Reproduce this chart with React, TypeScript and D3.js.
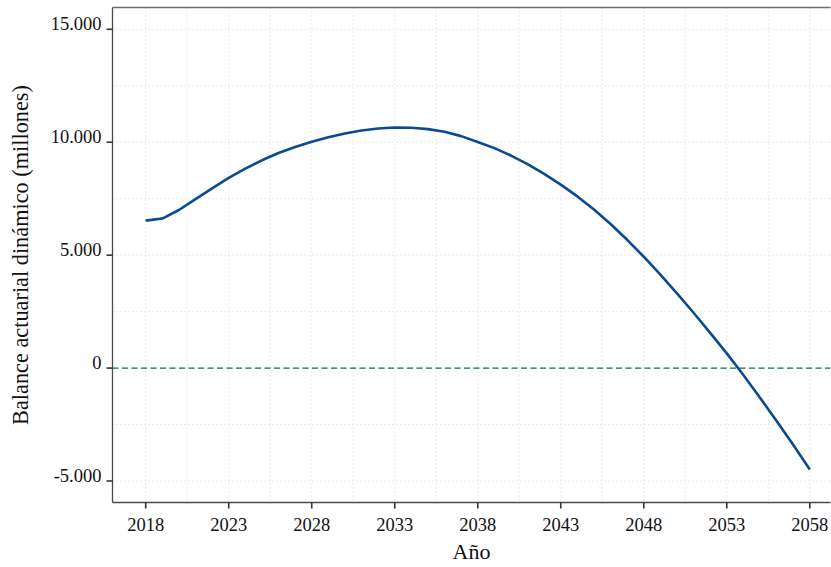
import React from "react";
import * as d3 from "d3";

const years: number[] = [
  2018, 2019, 2020, 2021, 2022, 2023, 2024, 2025, 2026, 2027, 2028, 2029, 2030,
  2031, 2032, 2033, 2034, 2035, 2036, 2037, 2038, 2039, 2040, 2041, 2042, 2043,
  2044, 2045, 2046, 2047, 2048, 2049, 2050, 2051, 2052, 2053, 2054, 2055, 2056,
  2057, 2058,
];
const balance: number[] = [
  6530, 6620, 7000, 7480, 7960, 8420, 8830, 9200, 9520, 9790, 10020, 10220, 10390,
  10520, 10610, 10650, 10640, 10580, 10460, 10270, 10010, 9740, 9410, 9030, 8600, 8120,
  7600, 7020, 6380, 5680, 4930, 4140, 3310, 2450, 1560, 650, -310, -1310, -2340,
  -3400, -4490,
];
const xTicks: number[] = [2018, 2023, 2028, 2033, 2038, 2043, 2048, 2053, 2058];
const xMinor: number[] = [2020.5, 2025.5, 2030.5, 2035.5, 2040.5, 2045.5, 2050.5, 2055.5];
const yTicks: number[] = [-5000, 0, 5000, 10000, 15000];
const yMinor: number[] = [-2500, 2500, 7500, 12500];
const yTickLabels: string[] = ["-5.000", "0", "5.000", "10.000", "15.000"];

const W = 831;
const H = 567;
const left = 112.5;
const top = 7.5;
const bottom = 502.5;
const right = 830.5;

export default function App() {
  const x = d3.scaleLinear().domain([2016, 2060]).range([left, 843]);
  const y = d3.scaleLinear().domain([-5000, 15000]).range([481, 29.3]);
  const pts = years.map((yr, i) => [yr, balance[i]] as [number, number]);
  const line = d3
    .line<[number, number]>()
    .x((d) => x(d[0]))
    .y((d) => y(d[1]))
    .curve(d3.curveLinear);
  const font = "'Liberation Serif', 'Times New Roman', serif";
  const gridColor = "#d4d4d4";
  return (
    <svg
      width={W}
      height={H}
      style={{ position: "absolute", left: 0, top: 0, background: "#fff" }}
      fontFamily={font}
    >
      <defs>
        <clipPath id="panel">
          <rect x={left} y={top} width={right - left} height={bottom - top} />
        </clipPath>
      </defs>
      <g clipPath="url(#panel)">
        {[...xTicks, ...xMinor].map((t) => (
          <line
            key={"vx" + t}
            x1={x(t)}
            x2={x(t)}
            y1={top}
            y2={bottom}
            stroke={gridColor}
            strokeWidth={1}
            strokeDasharray="1,3"
          />
        ))}
        {[...yTicks, ...yMinor].map((t) => (
          <line
            key={"hy" + t}
            x1={left}
            x2={right}
            y1={y(t)}
            y2={y(t)}
            stroke={gridColor}
            strokeWidth={1}
            strokeDasharray="1,3"
          />
        ))}
        <line
          x1={left}
          x2={right}
          y1={y(0)}
          y2={y(0)}
          stroke="#0a7a32"
          strokeWidth={1.2}
          strokeDasharray="6,3.5"
        />
        <path
          d={line(pts) || ""}
          fill="none"
          stroke="#0a4a92"
          strokeWidth={2.6}
          strokeLinejoin="round"
          strokeLinecap="butt"
        />
      </g>
      {/* panel border */}
      <line x1={left} x2={right} y1={top} y2={top} stroke="#6e6e6e" strokeWidth={1.3} />
      <line x1={left} x2={left} y1={top} y2={bottom} stroke="#4a4a4a" strokeWidth={1.3} />
      <line x1={left} x2={right} y1={bottom} y2={bottom} stroke="#4a4a4a" strokeWidth={1.3} />
      {/* y ticks */}
      {yTicks.map((t, i) => (
        <g key={"yt" + t}>
          <line x1={left - 6} x2={left} y1={y(t)} y2={y(t)} stroke="#333" strokeWidth={1.6} />
          <text
            x={left - 11}
            y={y(t) + 1}
            textAnchor="end"
            fontSize={18.5}
            fill="#111"
          >
            {yTickLabels[i]}
          </text>
        </g>
      ))}
      {/* x ticks */}
      {xTicks.map((t) => (
        <g key={"xt" + t}>
          <line x1={x(t)} x2={x(t)} y1={bottom} y2={bottom + 6} stroke="#333" strokeWidth={1.6} />
          <text x={x(t)} y={531} textAnchor="middle" fontSize={18.5} fill="#111">
            {t}
          </text>
        </g>
      ))}
      <text x={(left + right) / 2} y={559} textAnchor="middle" fontSize={22} fill="#111">
        Año
      </text>
      <text
        transform={`translate(28, ${(top + bottom) / 2}) rotate(-90)`}
        textAnchor="middle"
        fontSize={22.3}
        fill="#111"
      >
        Balance actuarial dinámico (millones)
      </text>
    </svg>
  );
}
